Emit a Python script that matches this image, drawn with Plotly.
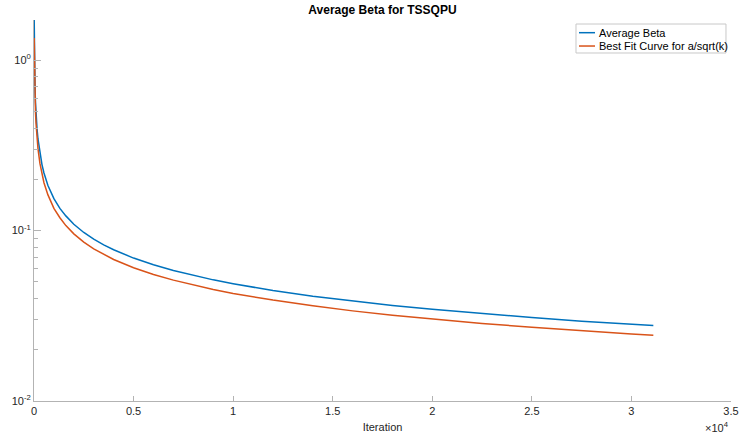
import plotly.graph_objects as go

iterations = [10, 20, 30, 50, 75, 100, 150, 200, 300, 400, 500, 700, 1000, 1300, 1600,
              2000, 2500, 3000, 3500, 4000, 5000, 6000, 7000, 8000, 9000, 10000, 12000,
              14000, 16000, 18000, 20000, 22500, 25000, 27500, 30000, 31100]
avg_beta = [1.72, 1.10, 0.89, 0.69, 0.565, 0.488, 0.398, 0.345, 0.282, 0.244, 0.218, 0.184,
            0.154, 0.135, 0.122, 0.109, 0.0975, 0.089, 0.0825, 0.0772, 0.0690, 0.0630,
            0.0583, 0.0546, 0.0514, 0.0488, 0.0445, 0.0412, 0.0386, 0.0364, 0.0345,
            0.0325, 0.0309, 0.0294, 0.0282, 0.0277]
best_fit = [1.35, 0.957, 0.781, 0.605, 0.494, 0.428, 0.349, 0.303, 0.247, 0.214, 0.191,
            0.162, 0.135, 0.119, 0.107, 0.0957, 0.0856, 0.0781, 0.0723, 0.0677, 0.0605,
            0.0553, 0.0512, 0.0479, 0.0451, 0.0428, 0.0391, 0.0362, 0.0338, 0.0319,
            0.0303, 0.0285, 0.0271, 0.0258, 0.0247, 0.0243]
series_names = ["Average Beta", "Best Fit Curve for a/sqrt(k)"]
series_colors = ["#0072BD", "#D95319"]

x_tickvals = [0, 5000, 10000, 15000, 20000, 25000, 30000, 35000]
x_ticktext = ["0", "0.5", "1", "1.5", "2", "2.5", "3", "3.5"]
y_tickvals = [0.01, 0.1, 1]
y_ticktext = ["10<sup>-2</sup>", "10<sup>-1</sup>", "10<sup>0</sup>"]
y_minor = [m * d for d in (0.01, 0.1, 1) for m in range(2, 10) if m * d < 1.72]

font_family = "Liberation Sans, Arial, Helvetica, sans-serif"
axis_col = "#b3b3b3"
text_col = "#262626"

fig = go.Figure()
for ys, nm, col in zip([avg_beta, best_fit], series_names, series_colors):
    fig.add_trace(go.Scatter(x=iterations, y=ys, mode="lines", name=nm,
                             line=dict(color=col, width=1.5), showlegend=False))

# invisible trace to activate minor-tick overlay axis
fig.add_trace(go.Scatter(x=[None], y=[None], yaxis="y2", showlegend=False,
                         hoverinfo="skip"))

fig.update_layout(
    width=739, height=436,
    margin=dict(l=34, r=8, t=20, b=35, autoexpand=False),
    paper_bgcolor="white", plot_bgcolor="white",
    font=dict(family=font_family, size=11, color=text_col),
    title=dict(text="<b>Average Beta for TSSQPU</b>", x=0.5, xanchor="center",
               xref="paper", y=0.977, yanchor="middle",
               font=dict(size=12, color="black")),
    showlegend=False,
    xaxis=dict(range=[0, 35000], tickvals=x_tickvals, ticktext=x_ticktext,
               automargin=False,
               showgrid=False, zeroline=False, showline=True, linecolor=axis_col,
               linewidth=1, ticks="inside", ticklen=5, tickcolor=axis_col,
               tickfont=dict(size=11, color=text_col),
               title=dict(text="Iteration", font=dict(size=11, color=text_col), standoff=7)),
    yaxis=dict(type="log", range=[-2, 0.236], tickvals=y_tickvals, ticktext=y_ticktext,
               automargin=False,
               showgrid=False, zeroline=False, showline=True, linecolor=axis_col,
               linewidth=1, ticks="inside", ticklen=7, tickcolor=axis_col,
               tickfont=dict(size=11, color=text_col)),
    yaxis2=dict(type="log", range=[-2, 0.236], overlaying="y", side="left",
                tickvals=y_minor, showticklabels=False, automargin=False,
                showgrid=False, zeroline=False, showline=False,
                ticks="inside", ticklen=4, tickcolor=axis_col),
)

# MATLAB-style legend box (top-right inside axes)
fig.add_shape(type="rect", xref="paper", yref="paper", x0=0.7776, x1=0.9928,
              y0=0.9134, y1=0.9895, line=dict(color="#c8c8c8", width=1),
              fillcolor="white", layer="above")
for i, (nm, col) in enumerate(zip(series_names, series_colors)):
    yy = 0.9667 - i * 0.0350
    fig.add_shape(type="line", xref="paper", yref="paper", x0=0.7819, x1=0.8049,
                  y0=yy, y1=yy, line=dict(color=col, width=1.5), layer="above")
    fig.add_annotation(text=nm, xref="paper", yref="paper", x=0.8077, y=yy,
                       xanchor="left", yanchor="middle", showarrow=False,
                       font=dict(size=11, color="black"))

fig.add_annotation(text="\u00d710<sup>4</sup>", xref="paper", yref="paper",
                   x=1.0, y=-0.068, xanchor="right", yanchor="middle", showarrow=False,
                   font=dict(size=11, color=text_col))

fig.write_html("out.html", config={"displayModeBar": False},
               post_script="document.body.style.margin='0';")
